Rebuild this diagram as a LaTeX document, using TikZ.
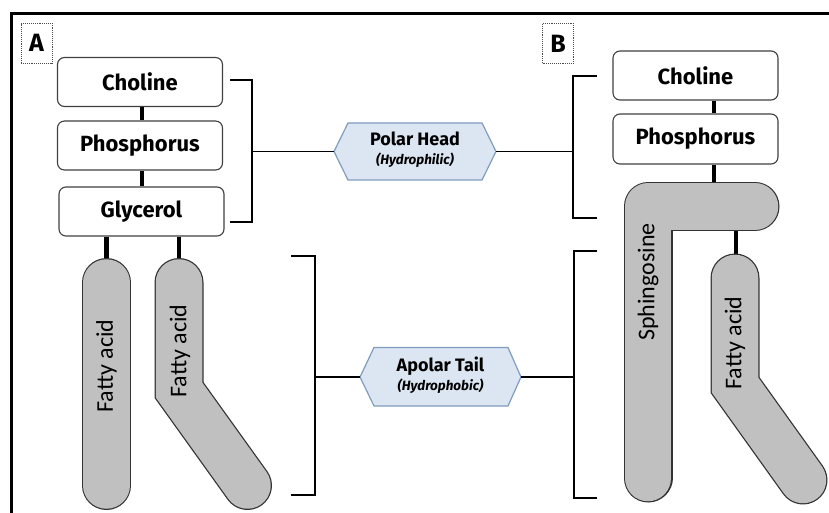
\documentclass[tikz,border=0pt]{standalone}
\usepackage{fontspec}
\setmainfont{Fira Sans}
\newfontfamily\calib{Carlito}
\newcommand\hexsubfont{\fontsize{13.5}{15}\selectfont\bfseries\itshape}
\usetikzlibrary{calc}
\definecolor{hexfill}{HTML}{DCE6F2}
\definecolor{hexdraw}{HTML}{7F9CBF}
\definecolor{tailgray}{HTML}{C0C0C0}
\begin{document}
\begin{tikzpicture}[x=1pt,y=-1pt,
  box/.style={draw=black!75, line width=1.1pt, rounded corners=7pt, fill=white,
    minimum width=165pt, minimum height=49pt, inner sep=0pt,
    font=\fontsize{22}{26}\selectfont\bfseries},
  bond/.style={line width=4.5pt},
  brack/.style={line width=1.8pt},
  hexa/.style={draw=hexdraw, fill=hexfill, line width=1.2pt},
  tailout/.style={line width=49pt, draw=black!80, line cap=round},
  tailin/.style={line width=46.5pt, draw=tailgray, line cap=round},
  falab/.style={font=\calib\fontsize{24}{28}\selectfont, rotate=90, inner sep=0pt},
  hexlab/.style={align=center, font=\fontsize{18}{20}\selectfont\bfseries, inner sep=0pt},
  panel/.style={draw=black!70, densely dotted, line width=0.9pt, minimum width=31pt,
    minimum height=40pt, inner sep=0pt, font=\fontsize{25}{27}\selectfont\bfseries}]
\useasboundingbox (0,0) rectangle (829,513);
% frame
\draw[line width=3pt] (11,513) -- (11,14) -- (829,14);
% panel labels
\node[panel] (labA) at (36.5,43) {A};
\node[panel] (labB) at (558,43.5) {B};
% ---------- A ----------
\node[box] (chA) at (140,82) {Choline};
\node[box] (phA) at (140,145.5) {Phosphorus};
\node[box] (glA) at (141.5,211.5) {Glycerol};
\coordinate (bxA) at (142,0);
\draw[bond] (chA.south -| bxA) -- (phA.north -| bxA);
\draw[bond] (phA.south -| bxA) -- (glA.north -| bxA);
\coordinate (faA1top) at (106.5,262);
\coordinate (faA2top) at (179,262);
\draw[bond] (glA.south -| faA1top) -- (faA1top);
\draw[bond] (glA.south -| faA2top) -- (faA2top);
\draw[tailout] (106.5,282.5) -- (106.5,485.5);
\draw[tailin] (106.5,282.5) -- (106.5,485.5);
\draw[tailout, line join=miter] (179,282.5) -- (179,390) -- (247.5,485.5);
\draw[tailin, line join=miter] (179,282.5) -- (179,390) -- (247.5,485.5);
\node[falab] (faA1) at (106.5,366) {Fatty acid};
\node[falab] (faA2) at (180,351) {Fatty acid};
% ---------- hexagons ----------
\path[hexa] (334,151.5) -- (348,123) -- (482,123) -- (496,151.5) -- (482,180) -- (348,180) -- cycle;
\node[hexlab] (polar) at (415,150) {Polar Head\\[-1pt]{\hexsubfont (Hydrophilic)}};
\coordinate (polW) at (334,151.5);
\coordinate (polE) at (496,151.5);
\path[hexa] (360,377) -- (374,347.5) -- (508,347.5) -- (521,377) -- (508,406) -- (374,406) -- cycle;
\node[hexlab] (apolar) at (440.5,375.5) {Apolar Tail\\[-1pt]{\hexsubfont (Hydrophobic)}};
\coordinate (apoW) at (360,377);
\coordinate (apoE) at (521,377);
% brackets
\coordinate (brA1) at (230,80);
\coordinate (brA2) at (230,222);
\draw[brack] (brA1) -- (252,80) -- (252,222) -- (brA2);
\draw[brack] (252,151.5) -- (polW);
\coordinate (brA3) at (291,256);
\coordinate (brA4) at (291,495);
\draw[brack] (brA3) -- (315,256) -- (315,495) -- (brA4);
\draw[brack] (315,377) -- (apoW);
\coordinate (brB1) at (597,76);
\coordinate (brB2) at (597,218);
\draw[brack] (brB1) -- (573,76) -- (573,218) -- (brB2);
\draw[brack] (polE) -- (573,151.5);
\coordinate (brB3) at (597,251);
\coordinate (brB4) at (597,498);
\draw[brack] (brB3) -- (574,251) -- (574,498) -- (brB4);
\draw[brack] (apoE) -- (574,377);
% ---------- B ----------
\node[box] (chB) at (695.5,75.5) {Choline};
\node[box, minimum height=50pt] (phB) at (695.5,139) {Phosphorus};
\coordinate (bx) at (714,0);
\draw[bond] (chB.south -| bx) -- (phB.north -| bx);
\coordinate (sphTop) at (714,192);
\draw[bond] (phB.south -| bx) -- (sphTop);
\coordinate (faBtop) at (736,262);
\coordinate (sphBot) at (736,222);
\draw[bond] (sphBot) -- (faBtop);
\draw[tailout, line join=round] (648,478) -- (648,206.5) -- (755,206.5);
\draw[tailin, line join=round] (648,478) -- (648,206.5) -- (755,206.5);
\draw[tailout, line join=miter] (735,278) -- (735,385) -- (803,480);
\draw[tailin, line join=miter] (735,278) -- (735,385) -- (803,480);
\node[falab] (sph) at (648,282) {Sphingosine};
\node[falab] (faB) at (735,343) {Fatty acid};
\end{tikzpicture}
\end{document}
